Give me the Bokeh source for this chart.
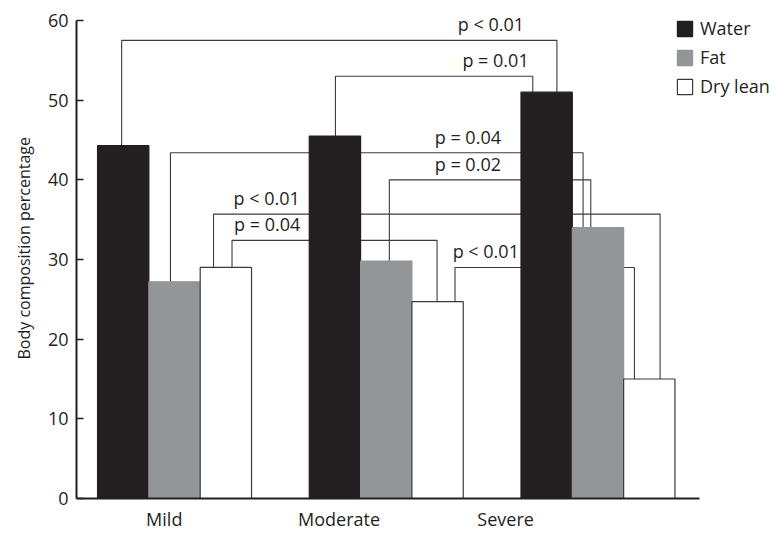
from bokeh.plotting import figure
from bokeh.models import Range1d, FixedTicker, Legend, LegendItem, Title
from bokeh.core.properties import value
from bokeh.embed import file_html
from bokeh.resources import INLINE

# ---------------- data ----------------
categories = ["Mild", "Moderate", "Severe"]
series_names = ["Water", "Fat", "Dry lean"]
water = [44.3, 45.5, 51.0]
fat = [27.2, 29.8, 34.0]
dry_lean = [29.0, 24.7, 15.0]
y_ticks = [0, 10, 20, 30, 40, 50, 60]

# significance brackets: from (group, series) to (group, series) at a level
br_labels = ["p < 0.01", "p = 0.01", "p = 0.04", "p = 0.02", "p < 0.01", "p = 0.04", "p < 0.01"]
br_from = [(0, 0), (1, 0), (0, 1), (1, 1), (0, 2), (0, 2), (1, 2)]
br_to = [(2, 0), (2, 0), (2, 1), (2, 1), (2, 2), (1, 2), (2, 2)]
br_level = [57.5, 53.0, 43.4, 40.0, 35.7, 32.4, 29.0]

# ---------------- layout / style ----------------
FONT = "Open Sans"
INK = "#231f20"
colors = [INK, "#939598", "#ffffff"]
outline = [INK, "#939598", "#3a3a3a"]
W, H = 772, 533
LEFT, RIGHT_AXIS_END, TOP, BOTTOM = 75, 699, 4, 498    # pixel layout of the frame
UNIT_PX = 51.4                                          # one bar width in pixels
Y_PX = (BOTTOM - 20) / 60.0                             # 60 sits at y=20
GROUP_STEP = 4.125
FIRST_LEFT = 0.41
group_left = [FIRST_LEFT + i * GROUP_STEP for i in range(len(categories))]
from_frac = [0.47, 0.51, 0.42, 0.56, 0.26, 0.62, 0.84]
to_frac = [0.70, 0.23, 0.21, 0.36, 0.71, 0.49, 0.21]
label_right = [8.72, 8.81, 8.27, 8.27, 4.35, 4.36, 8.62]
tick_label_offset = [1.30, 0.58, -0.30]

values = [water, fat, dry_lean]

x_end = (W - LEFT) / UNIT_PX
x_axis_end = (RIGHT_AXIS_END - LEFT) / UNIT_PX
y_end = (BOTTOM - TOP) / Y_PX

p = figure(width=W, height=H, output_backend="svg", toolbar_location=None,
           x_range=Range1d(0, x_end), y_range=Range1d(0, y_end),
           min_border_left=LEFT, min_border_right=0, min_border_top=TOP,
           min_border_bottom=H - BOTTOM)
p.outline_line_color = None
p.xgrid.visible = False
p.ygrid.visible = False
p.background_fill_color = "white"

# brackets (drawn first so bars cover them)
xs, ys = [], []
for (g1, s1), (g2, s2), lvl, f1, f2 in zip(br_from, br_to, br_level, from_frac, to_frac):
    xl = group_left[g1] + s1 + f1
    xr = group_left[g2] + s2 + f2
    xs.append([xl, xl, xr, xr])
    ys.append([values[s1][g1], lvl, lvl, values[s2][g2]])
p.multi_line(xs=xs, ys=ys, line_color="#3c3c3c", line_width=1.1)

p.text(x=label_right, y=br_level, text=br_labels, text_align="right",
       text_baseline="alphabetic", y_offset=-16, text_font=value(FONT),
       text_font_size="18px", text_color=INK)

# bars
renderers = []
for s, name in enumerate(series_names):
    xc = [group_left[g] + s + 0.5 for g in range(len(categories))]
    r = p.vbar(x=xc, top=values[s], bottom=0, width=1.0, fill_color=colors[s],
               line_color=outline[s], line_width=1.2)
    renderers.append((name, r))

legend = Legend(items=[LegendItem(label=n, renderers=[r]) for n, r in renderers],
                location=(674 - LEFT, BOTTOM - 98), glyph_width=19, glyph_height=19,
                label_height=19, spacing=5, padding=0, margin=0, label_standoff=6,
                border_line_color=None, background_fill_alpha=0,
                label_text_font=FONT, label_text_font_size="18px", label_text_color=INK)
p.add_layout(legend)

# axes
ya = p.yaxis[0]
ya.ticker = FixedTicker(ticks=y_ticks)
ya.bounds = (0, 60)
ya.major_tick_in = 7
ya.major_tick_out = 0
ya.minor_tick_line_color = None
ya.major_tick_line_color = INK
ya.major_tick_line_width = 1.5
ya.axis_line_width = 2
ya.axis_line_color = INK
ya.major_label_standoff = 8
ya.major_label_text_font = FONT
ya.major_label_text_font_size = "18px"
ya.major_label_text_color = INK

xa = p.xaxis[0]
tick_pos = [round(group_left[i] + tick_label_offset[i], 3) for i in range(len(categories))]
xa.ticker = FixedTicker(ticks=tick_pos)
xa.bounds = (0, x_axis_end)
xa.major_label_overrides = {tp: c for tp, c in zip(tick_pos, categories)}
xa.major_tick_in = 0
xa.major_tick_out = 0
xa.minor_tick_line_color = None
xa.axis_line_width = 2
xa.axis_line_color = INK
xa.major_label_standoff = 8
xa.major_label_text_font = FONT
xa.major_label_text_font_size = "18px"
xa.major_label_text_color = INK

ytitle = Title(text="Body composition percentage", align="left", offset=139,
               text_font=FONT, text_font_size="16px", text_font_style="normal",
               text_color=INK)
if "standoff" in Title.properties():
    ytitle.standoff = 20
p.add_layout(ytitle, "left")

open("out.html", "w").write(file_html(p, INLINE))
